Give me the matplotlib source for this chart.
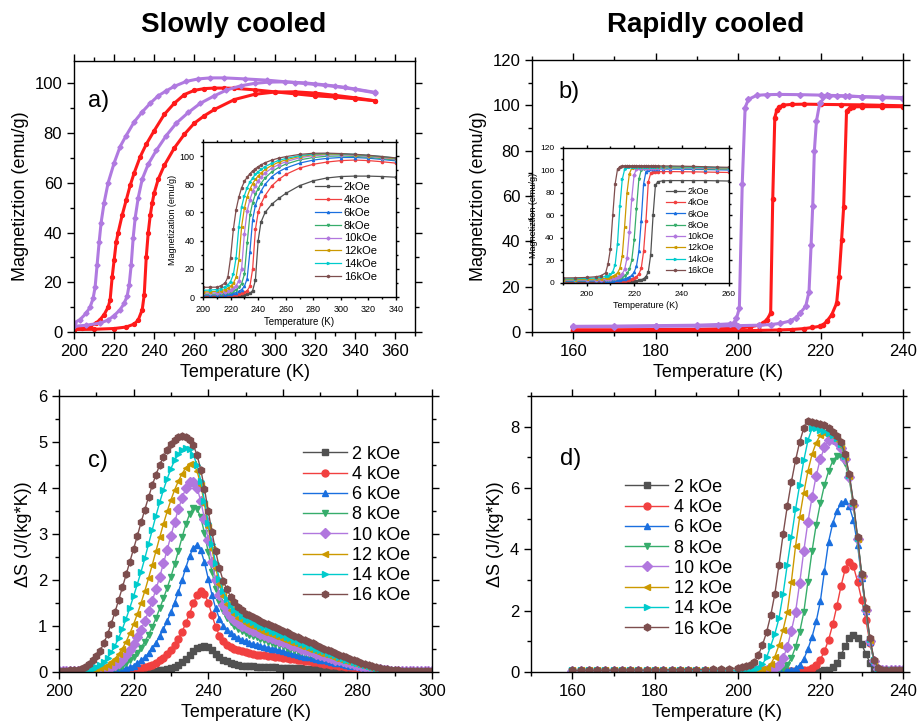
import numpy as np
import matplotlib
matplotlib.use("Agg")
import matplotlib.pyplot as plt
from matplotlib.ticker import MultipleLocator

plt.rcParams['font.family'] = ['Liberation Sans', 'DejaVu Sans']

# ---------------- donnees ----------------
FIELDS = ["2", "4", "6", "8", "10", "12", "14", "16"]
COLORS = ["#515151", "#F14040", "#1A6FDF", "#37AD6B",
          "#B177DE", "#CC9900", "#00CBCC", "#7D4E4E"]
MARKERS = ["s", "o", "^", "v", "D", "<", ">", "h"]

# (a) refroidissement lent, 2 branches par champ
a_red_cool_T = [200, 204, 208, 211, 213, 215, 217, 218, 219, 220, 221, 222, 224, 226, 228, 230, 233,
                236, 240, 245, 250, 255, 260, 265, 270, 275, 280, 290, 300, 310, 320, 330, 340, 350]
a_red_cool_M = [1.2, 1.5, 2.3, 3.6, 5.0, 7.0, 10, 13, 22, 29, 36, 40, 47, 53, 59, 64, 70.5,
                75.5, 81, 87.5, 92, 95.5, 97.2, 97.9, 98.1, 98.1, 98, 97.4, 96.6, 95.8, 95, 94.5, 93.8, 93.0]
a_red_warm_T = [200, 210, 220, 226, 230, 232, 234, 235, 236, 237, 238, 239, 240, 242, 245, 250, 255,
                260, 265, 270, 280, 290, 300, 310, 320, 330, 340, 350]
a_red_warm_M = [1.0, 1.1, 1.4, 2.0, 3.2, 4.8, 9.0, 15, 30, 40, 47, 52, 56, 61.5, 67, 74, 79.5,
                84, 87, 89.5, 93.5, 95.6, 96.5, 96.6, 96.1, 95.2, 94.2, 93.0]
a_pur_cool_T = [200, 203, 206, 208, 209.5, 210.5, 211.5, 212.5, 213.5, 215, 217, 220, 223, 226, 230, 234,
                238, 242, 246, 250, 256, 262, 268, 275, 285, 296, 310, 320, 330, 340, 350]
a_pur_cool_M = [3.6, 5.0, 7.5, 10, 13.5, 18, 27, 36, 44, 52, 60, 68, 74.6, 79, 84.5, 88.5,
                92, 95, 97, 98.8, 100.8, 101.8, 102.2, 102.2, 101.8, 101.3, 100.3, 99.6, 98.8, 97.6, 96.2]
a_pur_warm_T = [200, 206, 213, 217, 220, 223, 225, 226.5, 227.5, 228.5, 229.5, 230.5, 232, 234, 237,
                241, 246, 251, 257, 263, 270, 276, 283, 290, 297, 305, 315, 325, 335, 350]
a_pur_warm_M = [2.3, 2.7, 3.6, 4.8, 6.6, 9.0, 11.5, 14.5, 19, 27, 38, 46, 54, 61.5, 67.5,
                73, 79, 84, 88.3, 92, 95, 97.3, 99, 100, 100.5, 100.6, 100.2, 99.4, 98.4, 96.4]

# encart (a)
ia_T = [200, 205, 210, 213, 216, 218, 220, 222, 224, 226, 228, 230, 232, 234, 236,
        238, 240, 242, 245, 250, 255, 260, 270, 280, 290, 300, 310, 320, 330, 340]
ia_M = [
    [0.3, 0.3, 0.3, 0.4, 0.4, 0.5, 0.5, 0.6, 0.7, 0.8, 1.0, 1.3, 1.8, 2.6, 4.5,
     12, 40, 53, 60, 66, 70, 73.5, 79, 82.5, 84.5, 85.5, 85.8, 85.8, 85.5, 85.0],
    [0.8, 0.8, 0.8, 0.9, 1.0, 1.1, 1.2, 1.4, 1.6, 2.0, 2.5, 3.3, 4.5, 7.5, 20,
     48, 60, 66, 72, 79, 83.5, 87, 91.5, 94.2, 95.8, 96.8, 97.2, 96.8, 96.0, 95.0],
    [1.3, 1.3, 1.4, 1.5, 1.7, 1.9, 2.2, 2.6, 3.1, 4.0, 5.3, 7.5, 13, 32, 55,
     65, 71, 75, 80, 85.5, 89, 91.5, 95, 97.2, 98.4, 99, 99, 98.5, 97.6, 96.6],
    [2.0, 2.0, 2.1, 2.3, 2.6, 2.9, 3.4, 4.1, 5.2, 6.8, 9.5, 16, 38, 58, 67,
     73, 77, 80.5, 84.5, 89, 92, 94.3, 97.3, 99, 99.9, 100.1, 99.8, 99.2, 98.2, 97.2],
    [2.8, 2.8, 3.0, 3.3, 3.8, 4.3, 5.0, 6.2, 8.0, 11.5, 20, 45, 61, 69, 75,
     79, 82.5, 85, 88, 91.5, 94, 96, 98.8, 100.3, 100.9, 100.9, 100.5, 99.8, 98.8, 97.7],
    [3.6, 3.7, 4.0, 4.5, 5.3, 6.2, 7.6, 9.8, 14, 26, 50, 63, 71, 76.5, 80.5,
     83.5, 86, 88, 90.5, 93.5, 95.7, 97.3, 99.7, 101, 101.4, 101.3, 100.9, 100.2, 99.2, 98.2],
    [4.8, 4.9, 5.3, 6.0, 7.2, 8.6, 11, 16, 28, 50, 64, 72, 77.5, 81.5, 84.5,
     87, 89, 90.5, 92.5, 95, 97, 98.3, 100.3, 101.5, 101.8, 101.6, 101.2, 100.5, 99.6, 98.6],
    [6.9, 6.9, 7.0, 8.0, 10, 14, 28, 48, 62, 71, 77.5, 82, 85, 87.5, 89.5,
     91, 92.5, 93.7, 95.3, 97.2, 98.6, 99.6, 101.2, 102, 102.1, 101.8, 101.3, 100.6, 99.7, 98.7],
]

# (b) refroidissement rapide
b_red_cool_T = [160, 170, 180, 190, 195, 200, 203, 205, 206, 207, 207.9, 208.4, 208.9, 209.4, 210,
                211, 213, 216, 220, 225, 230, 235, 240]
b_red_cool_M = [1.0, 1.0, 1.1, 1.2, 1.4, 1.7, 2.3, 3.0, 3.9, 5.5, 8.3, 58.8, 94.6, 98, 99.3,
                100.1, 100.4, 100.5, 100.4, 100.3, 100.2, 100, 99.8]
b_red_warm_T = [160, 170, 180, 190, 200, 205, 210, 213, 216, 218, 219.8, 220.7, 221.5, 222.7, 223.9,
                224.5, 225.1, 225.6, 226.3, 227.1, 227.9, 230, 235, 240]
b_red_warm_M = [0.4, 0.4, 0.4, 0.5, 0.6, 0.7, 0.9, 1.1, 1.5, 2.0, 2.5, 3.3, 4.7, 7.6, 12.7,
                24.4, 40.5, 55.1, 97.5, 98.8, 99.3, 99.4, 99.4, 99.4]
b_pur_cool_T = [160, 170, 180, 190, 195, 198, 198.9, 199.6, 200.3, 201, 201.7, 202.5, 204.5, 207,
                210, 215, 220, 222, 226, 230, 235, 240]
b_pur_cool_M = [2.5, 2.6, 2.8, 3.0, 3.3, 3.6, 3.9, 6.0, 10.5, 65.3, 99, 102.6, 104.4, 104.7,
                104.8, 104.7, 104.5, 104.2, 104, 103.8, 103.6, 103.4]
b_pur_warm_T = [160, 170, 180, 190, 200, 205, 208, 210.2, 212.5, 214, 215, 216.4, 217.2, 217.7,
                218.1, 218.5, 219, 219.8, 221.5, 224, 227, 230, 235, 240]
b_pur_warm_M = [2.4, 2.4, 2.5, 2.6, 2.8, 3.0, 3.3, 3.8, 4.8, 6.2, 8.3, 11.3, 17.8, 38.3,
                55.8, 80, 93, 101, 104.4, 104.3, 104.1, 103.8, 103.4, 103]

# encart (b)
ib_T = [190, 195, 200, 204, 206, 208, 209, 210, 211, 212, 213, 214, 215, 216, 217, 218, 219, 220,
        221, 222, 223, 224, 225, 226, 227, 228, 229, 230, 232, 235, 240, 245, 250, 255, 260]
ib_M = [
    [0.5, 0.5, 0.5, 0.5, 0.5, 0.6, 0.6, 0.6, 0.7, 0.7, 0.8, 0.8, 0.9, 1.0, 1.1, 1.2, 1.4, 1.6,
     1.9, 2.3, 2.9, 3.8, 5.5, 10, 25, 60, 87, 90, 90.8, 91, 91, 91, 91, 90.8, 90.6],
    [1.0, 1.0, 1.0, 1.1, 1.1, 1.2, 1.2, 1.3, 1.4, 1.5, 1.6, 1.8, 2.0, 2.2, 2.5, 2.9, 3.4, 4.2,
     5.5, 8.0, 13, 28, 55, 90, 97.5, 98.5, 98.8, 98.9, 99, 99, 98.9, 98.8, 98.6, 98.4, 98.2],
    [1.5, 1.5, 1.6, 1.7, 1.8, 1.9, 2.0, 2.1, 2.2, 2.4, 2.6, 2.9, 3.2, 3.7, 4.3, 5.2, 6.8, 9.5,
     15, 28, 55, 88, 99, 100.8, 101.2, 101.3, 101.3, 101.3, 101.3, 101.2, 101.1, 101, 100.8, 100.6, 100.4],
    [2.0, 2.0, 2.1, 2.2, 2.4, 2.6, 2.8, 3.0, 3.3, 3.6, 4.0, 4.6, 5.4, 6.6, 8.5, 12, 20, 38,
     66, 92, 100.5, 101.7, 102, 102, 102, 102, 102, 102, 102, 101.9, 101.8, 101.6, 101.4, 101.2, 101],
    [2.5, 2.5, 2.6, 2.8, 3.0, 3.3, 3.5, 3.8, 4.2, 4.7, 5.4, 6.5, 8.2, 12, 22, 45, 75, 96,
     101.5, 102.3, 102.5, 102.5, 102.5, 102.5, 102.5, 102.5, 102.5, 102.5, 102.5, 102.4,
     102.3, 102.1, 101.9, 101.7, 101.5],
    [3.0, 3.0, 3.2, 3.5, 3.8, 4.3, 4.7, 5.2, 6.0, 7.2, 9.0, 13, 24, 50, 80, 97, 102, 102.8,
     103, 103, 103, 103, 103, 103, 103, 103, 103, 103, 103, 103, 102.9, 102.7, 102.5, 102.3, 102.1],
    [3.7, 3.8, 4.0, 4.5, 5.0, 5.8, 6.5, 7.6, 10, 16, 35, 68, 92, 101, 103, 103.3, 103.3, 103.3,
     103.3, 103.3, 103.3, 103.3, 103.3, 103.3, 103.3, 103.3, 103.3, 103.3, 103.3, 103.3,
     103.2, 103, 102.8, 102.6, 102.4],
    [4.5, 4.6, 4.9, 5.6, 6.4, 9, 17, 30, 60, 88, 101, 103.5, 103.8, 104, 104, 104.1, 104.1, 104.1,
     104.1, 104.1, 104.1, 104.1, 104.1, 104.1, 104.1, 104.1, 104.1, 104.1, 104, 104,
     103.8, 103.6, 103.3, 103, 102.8],
]

# (c) variation d'entropie, refroidissement lent (pas de 1 K)
c_T = np.arange(200, 301)
c_dS = [
    [0.01, 0.01, 0.01, 0.01, 0.01, 0.01, 0.01, 0.01, 0.01, 0.01,
     0.01, 0.01, 0.01, 0.01, 0.01, 0.01, 0.01, 0.01, 0.01, 0.01,
     0.01, 0.01, 0.01, 0.02, 0.02, 0.02, 0.03, 0.04, 0.05, 0.06,
     0.08, 0.11, 0.15, 0.21, 0.29, 0.38, 0.46, 0.52, 0.55, 0.56,
     0.54, 0.48, 0.40, 0.33, 0.27, 0.23, 0.20, 0.17, 0.15, 0.14,
     0.13, 0.12, 0.12, 0.11, 0.11, 0.11, 0.10, 0.10, 0.10, 0.09,
     0.09, 0.09, 0.09, 0.08, 0.08, 0.08, 0.07, 0.07, 0.07, 0.06,
     0.06, 0.06, 0.05, 0.05, 0.05, 0.04, 0.04, 0.04, 0.03, 0.03,
     0.03, 0.03, 0.02, 0.02, 0.02, 0.02, 0.02, 0.01, 0.01, 0.01,
     0.01, 0.01, 0.01, 0.01, 0.01, 0.01, 0.01, 0.01, 0.01, 0.01, 0.01],
    [0.01, 0.01, 0.01, 0.01, 0.01, 0.01, 0.01, 0.01, 0.01, 0.01,
     0.01, 0.01, 0.01, 0.01, 0.02, 0.02, 0.02, 0.03, 0.03, 0.04,
     0.05, 0.06, 0.08, 0.10, 0.13, 0.16, 0.20, 0.25, 0.31, 0.39,
     0.48, 0.59, 0.72, 0.88, 1.06, 1.27, 1.49, 1.67, 1.75, 1.70,
     1.51, 1.24, 0.98, 0.79, 0.67, 0.59, 0.54, 0.50, 0.47, 0.45,
     0.43, 0.41, 0.40, 0.38, 0.37, 0.36, 0.35, 0.34, 0.33, 0.32,
     0.31, 0.30, 0.29, 0.28, 0.26, 0.25, 0.24, 0.23, 0.22, 0.21,
     0.20, 0.18, 0.17, 0.16, 0.15, 0.13, 0.12, 0.11, 0.10, 0.09,
     0.08, 0.07, 0.06, 0.05, 0.04, 0.04, 0.03, 0.03, 0.02, 0.02,
     0.02, 0.01, 0.01, 0.01, 0.01, 0.01, 0.01, 0.01, 0.01, 0.01, 0.01],
    [0.02, 0.02, 0.02, 0.02, 0.02, 0.02, 0.02, 0.02, 0.02, 0.02,
     0.02, 0.02, 0.02, 0.03, 0.03, 0.04, 0.05, 0.06, 0.08, 0.11,
     0.14, 0.19, 0.25, 0.32, 0.41, 0.52, 0.64, 0.78, 0.94, 1.11,
     1.30, 1.51, 1.74, 2.00, 2.27, 2.52, 2.70, 2.76, 2.65, 2.38,
     2.03, 1.68, 1.38, 1.16, 1.01, 0.91, 0.84, 0.78, 0.74, 0.70,
     0.67, 0.64, 0.61, 0.59, 0.57, 0.55, 0.53, 0.51, 0.49, 0.47,
     0.45, 0.43, 0.41, 0.39, 0.37, 0.35, 0.33, 0.32, 0.30, 0.28,
     0.27, 0.25, 0.23, 0.22, 0.20, 0.19, 0.17, 0.16, 0.14, 0.13,
     0.12, 0.10, 0.09, 0.08, 0.07, 0.06, 0.05, 0.04, 0.04, 0.03,
     0.03, 0.02, 0.02, 0.02, 0.02, 0.02, 0.02, 0.02, 0.02, 0.02, 0.02],
    [0.02, 0.02, 0.02, 0.02, 0.02, 0.02, 0.02, 0.02, 0.02, 0.02,
     0.03, 0.03, 0.04, 0.05, 0.06, 0.08, 0.10, 0.14, 0.19, 0.26,
     0.33, 0.42, 0.53, 0.66, 0.81, 0.98, 1.17, 1.38, 1.60, 1.83,
     2.07, 2.34, 2.63, 2.93, 3.21, 3.43, 3.57, 3.55, 3.36, 3.02,
     2.60, 2.18, 1.81, 1.52, 1.32, 1.18, 1.08, 1.00, 0.94, 0.89,
     0.85, 0.81, 0.78, 0.75, 0.72, 0.69, 0.66, 0.63, 0.61, 0.58,
     0.56, 0.53, 0.51, 0.48, 0.46, 0.43, 0.41, 0.39, 0.36, 0.34,
     0.32, 0.30, 0.28, 0.26, 0.24, 0.22, 0.20, 0.18, 0.16, 0.15,
     0.13, 0.12, 0.10, 0.09, 0.08, 0.07, 0.06, 0.05, 0.04, 0.03,
     0.03, 0.03, 0.02, 0.02, 0.02, 0.02, 0.02, 0.02, 0.02, 0.02, 0.02],
    [0.02, 0.02, 0.02, 0.02, 0.02, 0.02, 0.02, 0.03, 0.03, 0.03,
     0.04, 0.05, 0.06, 0.08, 0.11, 0.15, 0.20, 0.27, 0.36, 0.47,
     0.60, 0.75, 0.92, 1.11, 1.32, 1.55, 1.80, 2.07, 2.36, 2.66,
     2.96, 3.26, 3.54, 3.79, 3.99, 4.12, 4.13, 4.00, 3.72, 3.33,
     2.86, 2.40, 2.00, 1.68, 1.46, 1.31, 1.20, 1.12, 1.06, 1.01,
     0.97, 0.93, 0.90, 0.86, 0.83, 0.80, 0.77, 0.74, 0.71, 0.68,
     0.65, 0.62, 0.59, 0.56, 0.54, 0.51, 0.48, 0.45, 0.43, 0.40,
     0.37, 0.35, 0.32, 0.30, 0.27, 0.25, 0.23, 0.21, 0.19, 0.17,
     0.15, 0.13, 0.11, 0.10, 0.08, 0.07, 0.06, 0.05, 0.04, 0.03,
     0.03, 0.03, 0.02, 0.02, 0.02, 0.02, 0.02, 0.02, 0.02, 0.02, 0.02],
    [0.02, 0.02, 0.02, 0.02, 0.02, 0.03, 0.03, 0.03, 0.04, 0.05,
     0.06, 0.08, 0.11, 0.15, 0.21, 0.29, 0.39, 0.51, 0.66, 0.84,
     1.04, 1.26, 1.50, 1.76, 2.04, 2.33, 2.63, 2.93, 3.22, 3.49,
     3.74, 3.96, 4.15, 4.31, 4.44, 4.53, 4.52, 4.37, 4.07, 3.65,
     3.16, 2.68, 2.26, 1.92, 1.66, 1.48, 1.35, 1.26, 1.18, 1.12,
     1.07, 1.03, 0.99, 0.95, 0.92, 0.88, 0.85, 0.82, 0.78, 0.75,
     0.72, 0.69, 0.66, 0.63, 0.60, 0.57, 0.54, 0.51, 0.48, 0.45,
     0.42, 0.39, 0.36, 0.34, 0.31, 0.28, 0.26, 0.23, 0.21, 0.19,
     0.17, 0.15, 0.13, 0.11, 0.09, 0.08, 0.07, 0.05, 0.04, 0.04,
     0.03, 0.03, 0.03, 0.02, 0.02, 0.02, 0.02, 0.02, 0.02, 0.02, 0.02],
    [0.02, 0.02, 0.02, 0.02, 0.03, 0.03, 0.03, 0.04, 0.05, 0.07,
     0.10, 0.15, 0.22, 0.31, 0.43, 0.57, 0.74, 0.94, 1.16, 1.40,
     1.65, 1.91, 2.18, 2.47, 2.78, 3.09, 3.40, 3.69, 3.96, 4.20,
     4.42, 4.60, 4.74, 4.83, 4.87, 4.84, 4.72, 4.50, 4.16, 3.72,
     3.24, 2.78, 2.36, 2.02, 1.76, 1.58, 1.45, 1.35, 1.28, 1.21,
     1.16, 1.12, 1.08, 1.04, 1.00, 0.97, 0.93, 0.90, 0.87, 0.83,
     0.80, 0.77, 0.74, 0.70, 0.67, 0.64, 0.61, 0.57, 0.54, 0.51,
     0.48, 0.45, 0.42, 0.39, 0.36, 0.33, 0.30, 0.27, 0.25, 0.22,
     0.20, 0.17, 0.15, 0.13, 0.11, 0.09, 0.08, 0.06, 0.05, 0.04,
     0.04, 0.03, 0.03, 0.03, 0.02, 0.02, 0.02, 0.02, 0.02, 0.02, 0.02],
    [0.03, 0.03, 0.03, 0.04, 0.04, 0.05, 0.07, 0.11, 0.17, 0.25,
     0.34, 0.46, 0.62, 0.82, 1.05, 1.30, 1.57, 1.84, 2.12, 2.40,
     2.68, 2.96, 3.25, 3.53, 3.80, 4.06, 4.29, 4.50, 4.68, 4.83,
     4.95, 5.04, 5.10, 5.12, 5.11, 5.05, 4.93, 4.72, 4.40, 3.98,
     3.50, 3.04, 2.62, 2.26, 1.98, 1.80, 1.64, 1.52, 1.42, 1.34,
     1.27, 1.23, 1.19, 1.15, 1.11, 1.07, 1.04, 1.00, 0.97, 0.93,
     0.90, 0.86, 0.83, 0.79, 0.76, 0.72, 0.69, 0.65, 0.62, 0.58,
     0.55, 0.51, 0.48, 0.45, 0.42, 0.38, 0.35, 0.32, 0.29, 0.26,
     0.23, 0.20, 0.18, 0.15, 0.13, 0.11, 0.09, 0.07, 0.06, 0.05,
     0.04, 0.04, 0.03, 0.03, 0.03, 0.02, 0.02, 0.02, 0.02, 0.02, 0.02],
]

# (d) variation d'entropie, refroidissement rapide : 160-200 par 2 K puis 201-240 par 1 K
d_T = np.r_[160:201:2, 201:241]
d_dS = [
    [0.03, 0.03, 0.03, 0.03, 0.03, 0.03, 0.03, 0.03, 0.03, 0.03, 0.03, 0.03, 0.03, 0.03, 0.03,
     0.03, 0.03, 0.03, 0.03, 0.03, 0.03,
     0.03, 0.03, 0.03, 0.03, 0.03, 0.03, 0.03, 0.03, 0.03, 0.03, 0.03, 0.03, 0.03, 0.03, 0.03,
     0.03, 0.03, 0.03, 0.03, 0.04, 0.05, 0.08, 0.15, 0.30, 0.55, 0.85, 1.10, 1.20, 1.12,
     0.90, 0.60, 0.30, 0.10, 0.04, 0.03, 0.03, 0.03, 0.03, 0.03, 0.03],
    [0.03, 0.03, 0.03, 0.03, 0.03, 0.03, 0.03, 0.03, 0.03, 0.03, 0.03, 0.03, 0.03, 0.03, 0.03,
     0.03, 0.03, 0.03, 0.03, 0.03, 0.03,
     0.03, 0.03, 0.03, 0.03, 0.03, 0.03, 0.03, 0.03, 0.03, 0.03, 0.03, 0.03, 0.03, 0.03, 0.04,
     0.05, 0.07, 0.12, 0.22, 0.40, 0.68, 1.05, 1.55, 2.15, 2.80, 3.35, 3.60, 3.45, 2.95,
     2.35, 1.70, 0.95, 0.35, 0.09, 0.04, 0.04, 0.04, 0.04, 0.04, 0.04],
    [0.04, 0.04, 0.04, 0.04, 0.04, 0.04, 0.04, 0.04, 0.04, 0.04, 0.04, 0.04, 0.04, 0.04, 0.04,
     0.04, 0.04, 0.04, 0.04, 0.04, 0.04,
     0.04, 0.04, 0.04, 0.04, 0.04, 0.04, 0.04, 0.04, 0.04, 0.05, 0.05, 0.06, 0.08, 0.12, 0.22,
     0.42, 0.75, 1.15, 1.65, 2.30, 3.30, 4.25, 4.85, 5.25, 5.50, 5.57, 5.40, 4.95, 4.15,
     3.05, 1.98, 0.98, 0.33, 0.09, 0.05, 0.05, 0.05, 0.05, 0.05, 0.05],
    [0.04, 0.04, 0.04, 0.04, 0.04, 0.04, 0.04, 0.04, 0.04, 0.04, 0.04, 0.04, 0.04, 0.04, 0.04,
     0.04, 0.04, 0.04, 0.04, 0.04, 0.04,
     0.04, 0.04, 0.04, 0.04, 0.04, 0.05, 0.05, 0.06, 0.07, 0.09, 0.13, 0.24, 0.45, 0.82, 1.30,
     1.95, 2.95, 3.95, 4.80, 5.50, 6.10, 6.55, 6.88, 7.05, 7.00, 6.80, 6.28, 5.42, 4.30,
     3.10, 2.00, 1.00, 0.34, 0.09, 0.05, 0.05, 0.05, 0.05, 0.05, 0.05],
    [0.04, 0.04, 0.04, 0.04, 0.04, 0.04, 0.04, 0.04, 0.04, 0.04, 0.04, 0.04, 0.04, 0.04, 0.04,
     0.04, 0.04, 0.04, 0.04, 0.04, 0.04,
     0.04, 0.04, 0.04, 0.05, 0.05, 0.06, 0.07, 0.09, 0.13, 0.24, 0.45, 0.82, 1.35, 1.95, 2.90,
     3.95, 4.90, 5.70, 6.40, 6.95, 7.32, 7.55, 7.60, 7.50, 7.30, 6.95, 6.35, 5.45, 4.32,
     3.12, 2.02, 1.02, 0.35, 0.09, 0.05, 0.05, 0.05, 0.05, 0.05, 0.05],
    [0.05, 0.05, 0.05, 0.05, 0.05, 0.05, 0.05, 0.05, 0.05, 0.05, 0.05, 0.05, 0.05, 0.05, 0.05,
     0.05, 0.05, 0.05, 0.05, 0.05, 0.05,
     0.05, 0.05, 0.05, 0.06, 0.07, 0.09, 0.14, 0.26, 0.50, 0.88, 1.38, 1.95, 2.95, 4.10, 5.05,
     5.85, 6.55, 7.10, 7.48, 7.72, 7.80, 7.76, 7.68, 7.58, 7.38, 7.00, 6.38, 5.48, 4.35,
     3.15, 2.05, 1.05, 0.36, 0.10, 0.06, 0.05, 0.05, 0.05, 0.05, 0.05],
    [0.05, 0.05, 0.05, 0.05, 0.05, 0.05, 0.05, 0.05, 0.05, 0.05, 0.05, 0.05, 0.05, 0.05, 0.05,
     0.05, 0.05, 0.05, 0.05, 0.05, 0.05,
     0.06, 0.06, 0.07, 0.09, 0.14, 0.25, 0.48, 0.85, 1.25, 1.75, 2.55, 3.50, 4.40, 5.30, 6.10,
     6.90, 7.55, 7.95, 7.95, 7.90, 7.85, 7.80, 7.72, 7.62, 7.42, 7.05, 6.42, 5.52, 4.38,
     3.18, 2.08, 1.08, 0.38, 0.10, 0.06, 0.05, 0.05, 0.05, 0.05, 0.05],
    [0.05, 0.05, 0.05, 0.05, 0.05, 0.06, 0.06, 0.06, 0.06, 0.06, 0.07, 0.07, 0.07, 0.07, 0.08,
     0.08, 0.08, 0.09, 0.10, 0.11, 0.13,
     0.15, 0.18, 0.22, 0.33, 0.55, 0.88, 1.30, 1.85, 2.55, 3.50, 4.50, 5.40, 6.20, 6.90, 7.50,
     7.95, 8.18, 8.15, 8.12, 8.10, 8.05, 7.95, 7.82, 7.70, 7.50, 7.10, 6.45, 5.55, 4.40,
     3.20, 2.10, 1.10, 0.40, 0.12, 0.07, 0.06, 0.06, 0.06, 0.06, 0.06],
]

RED = "#FF1A1A"
PURPLE = "#B07AE0"


def frame(ax, xmaj, xmin, ymaj, ymin, size=12, major=5, minor=3):
    ax.xaxis.set_major_locator(MultipleLocator(xmaj))
    ax.xaxis.set_minor_locator(MultipleLocator(xmin))
    ax.yaxis.set_major_locator(MultipleLocator(ymaj))
    ax.yaxis.set_minor_locator(MultipleLocator(ymin))
    ax.tick_params(which="both", top=True, right=True, direction="out",
                   labelsize=size, width=1)
    ax.tick_params(which="major", length=major)
    ax.tick_params(which="minor", length=minor)
    for s in ax.spines.values():
        s.set_linewidth(1)


fig = plt.figure(figsize=(9.22, 7.26), dpi=100)

fig.text(0.253, 0.965, "Slowly cooled", ha="center", va="center",
         fontsize=20, fontweight="bold")
fig.text(0.765, 0.965, "Rapidly cooled", ha="center", va="center",
         fontsize=20, fontweight="bold")

# ---- (a)
ax = fig.add_axes([0.0803, 0.5427, 0.3698, 0.3733])
ax.plot(a_red_cool_T, a_red_cool_M, "-o", color=RED, lw=2.2, ms=2.8)
ax.plot(a_red_warm_T, a_red_warm_M, "-o", color=RED, lw=2.2, ms=2.8)
ax.plot(a_pur_cool_T, a_pur_cool_M, "-D", color=PURPLE, lw=2.2, ms=2.6)
ax.plot(a_pur_warm_T, a_pur_warm_M, "-D", color=PURPLE, lw=2.2, ms=2.6)
ax.set_xlim(200, 370)
ax.set_ylim(0, 109)
frame(ax, 20, 10, 20, 10)
ax.set_xlabel("Temperature (K)", fontsize=13)
ax.set_ylabel("Magnetiztion (emu/g)", fontsize=13)
ax.text(207, 93, "a)", fontsize=17, va="center")

ins = fig.add_axes([0.2202, 0.5909, 0.2093, 0.2135])
for k in range(8):
    ins.plot(ia_T, ia_M[k], "-", marker=MARKERS[k], color=COLORS[k], lw=0.9,
             ms=1.6, label=FIELDS[k] + "kOe")
ins.set_xlim(200, 340)
ins.set_ylim(0, 110)
frame(ins, 20, 10, 20, 10, size=6.5, major=2.5, minor=1.5)
ins.set_xlabel("Temperature (K)", fontsize=7, labelpad=2)
ins.set_ylabel("Magnetization (emu/g)", fontsize=6.5, labelpad=2)
ins.legend(loc="upper left", bbox_to_anchor=(0.58, 0.74), frameon=False,
           fontsize=8, handlelength=2.3, handletextpad=0.3, labelspacing=0.25,
           borderpad=0, borderaxespad=0)

# ---- (b)
ax = fig.add_axes([0.577, 0.5427, 0.4024, 0.3747])
ax.plot(b_red_cool_T, b_red_cool_M, "-o", color=RED, lw=2.2, ms=3)
ax.plot(b_red_warm_T, b_red_warm_M, "-o", color=RED, lw=2.2, ms=3)
ax.plot(b_pur_cool_T, b_pur_cool_M, "-D", color=PURPLE, lw=2.2, ms=3)
ax.plot(b_pur_warm_T, b_pur_warm_M, "-D", color=PURPLE, lw=2.2, ms=3)
ax.set_xlim(150, 240)
ax.set_ylim(0, 120)
frame(ax, 20, 10, 20, 10)
ax.set_xlabel("Temperature (K)", fontsize=13)
ax.set_ylabel("Magnetiztion (emu/g)", fontsize=13)
ax.text(156.5, 106, "b)", fontsize=17, va="center")

ins = fig.add_axes([0.6106, 0.6102, 0.18, 0.186])
for k in range(8):
    ins.plot(ib_T, ib_M[k], "-", marker=MARKERS[k], color=COLORS[k], lw=0.9,
             ms=1.6, label=FIELDS[k] + "kOe")
ins.set_xlim(190, 260)
ins.set_ylim(0, 120)
frame(ins, 20, 10, 20, 10, size=6, major=2.5, minor=1.5)
ins.set_xlabel("Temperature (K)", fontsize=6.5, labelpad=2)
ins.set_ylabel("Magnetiztion (emu/g)", fontsize=6.5, labelpad=2)
ins.legend(loc="upper left", bbox_to_anchor=(0.62, 0.71), frameon=False,
           fontsize=6.5, handlelength=2.1, handletextpad=0.3, labelspacing=0.25,
           borderpad=0, borderaxespad=0)

# ---- (c)
ax = fig.add_axes([0.064, 0.0744, 0.4046, 0.3802])
for k in range(8):
    ax.plot(c_T, c_dS[k], "-", marker=MARKERS[k], color=COLORS[k], lw=1,
            ms=5, label=FIELDS[k] + " kOe")
ax.set_xlim(200, 300)
ax.set_ylim(0, 6)
frame(ax, 20, 10, 1, 0.5)
ax.set_xlabel("Temperature (K)", fontsize=13)
ax.set_ylabel("ΔS (J/(kg*K))", fontsize=13)
ax.text(207.8, 4.59, "c)", fontsize=17, va="center")
ax.legend(loc="upper left", bbox_to_anchor=(0.655, 0.82), frameon=False,
          fontsize=13, handlelength=2.4, handletextpad=0.3, labelspacing=0.18,
          borderpad=0, borderaxespad=0)

# ---- (d)
ax = fig.add_axes([0.5759, 0.0744, 0.4035, 0.3802])
for k in range(8):
    ax.plot(d_T, d_dS[k], "-", marker=MARKERS[k], color=COLORS[k], lw=1,
            ms=5, label=FIELDS[k] + " kOe")
ax.set_xlim(150, 240)
ax.set_ylim(0, 9)
frame(ax, 20, 10, 2, 1)
ax.set_xlabel("Temperature (K)", fontsize=13)
ax.set_ylabel("ΔS (J/(kg*K))", fontsize=13)
ax.text(157, 6.95, "d)", fontsize=17, va="center")
ax.legend(loc="upper left", bbox_to_anchor=(0.253, 0.70), frameon=False,
          fontsize=13, handlelength=2.4, handletextpad=0.3, labelspacing=0.18,
          borderpad=0, borderaxespad=0)

fig.savefig("out.png", dpi=100)
